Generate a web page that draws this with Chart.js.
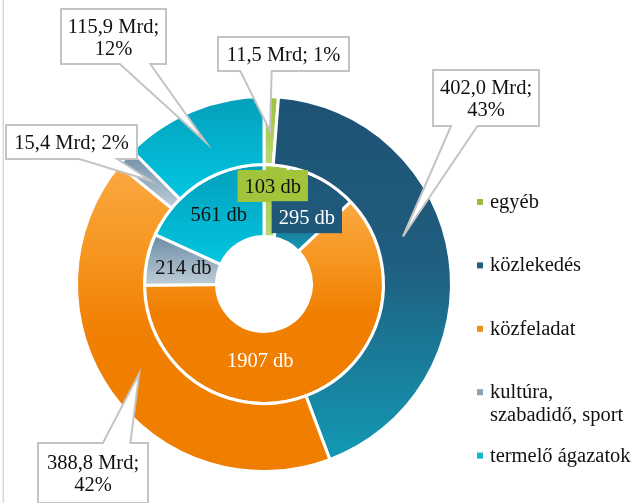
<!DOCTYPE html>
<html lang="hu">
<head>
<meta charset="utf-8">
<title>Beruházások ágazatonként</title>
<script src="https://cdn.jsdelivr.net/npm/chart.js@4.4.1/dist/chart.umd.min.js"></script>
<style>
  html, body { margin: 0; padding: 0; background: #fff; }
  #wrap { position: relative; width: 635px; height: 503px; }
</style>
</head>
<body>
<div id="wrap"><canvas id="chart" width="635" height="503"></canvas></div>
<script>
// ── DATA ─────────────────────────────────────
const categories = ['egyéb', 'közlekedés', 'közfeladat', 'kultúra, szabadidő, sport', 'termelő ágazatok'];
const amountMrd = [11.5, 402.0, 388.8, 15.4, 115.9];   // outer ring
const projectCount = [103, 295, 1907, 214, 561];        // inner ring

// ── STYLE ────────────────────────────────────
const FONT = "'Liberation Serif', 'Times New Roman', serif";
const FONT_SIZE = 20.5;
const TEXT = '#111111';
const legendColors = ['#9BBB3B', '#245E7E', '#F08C1E', '#8CA3B6', '#12B7D0'];
// vertical gradient per slice, top -> bottom of each arc
const gradStops = [
  [[0, '#9CC23A'], [1, '#BCD873']],
  [[0, '#1E5274'], [0.45, '#205D7E'], [1, '#129AB4']],
  [[0, '#FBA842'], [0.3, '#F6951F'], [0.55, '#F07F02'], [1, '#EF7D00']],
  [[0, '#6A8BA3'], [1, '#BFCED8']],
  [[0, '#049FBB'], [1, '#02C6E0']]
];

// inner ring label nudges (from arc centre) and boxes
const innerLabelStyle = [
  { dx: 0, dy: -15, color: TEXT, fill: '#A2C43A' },
  { dx: 2, dy: 6, color: '#FFFFFF', fill: '#1F5878' },
  { dx: -35, dy: -1, color: '#FFFFFF', fill: null },
  { dx: 1, dy: 1, color: TEXT, fill: null },
  { dx: 0, dy: 1, color: TEXT, fill: null }
];

// outer ring callouts: box relative to doughnut centre
const callouts = [
  { dx: -46, dy: -247, w: 131, h: 34, split: false, edge: 'bottom', base: [0.17, 0.41] },
  { dx: 169, dy: -214, w: 106, h: 56, split: true, edge: 'bottom', base: [0.17, 0.42], tip: [-13, -26] },
  { dx: -226, dy: 159, w: 110, h: 60, split: true, edge: 'top', base: [0.59, 0.84] },
  { dx: -258, dy: -159, w: 131, h: 34, split: false, edge: 'bottom', base: [0.56, 0.85] },
  { dx: -203, dy: -275, w: 105, h: 55, split: true, edge: 'bottom', base: [0.56, 0.85] }
];

function arcFill(ctx) {
  const chart = ctx.chart;
  const i = ctx.dataIndex;
  const stops = gradStops[i];
  const area = chart.chartArea;
  const ctrl = chart.getDatasetMeta(ctx.datasetIndex).controller;
  if (!area || !ctrl.outerRadius) return stops[0][1];
  const data = chart.data.datasets[ctx.datasetIndex].data;
  const total = data.reduce((a, b) => a + b, 0);
  let before = 0;
  for (let k = 0; k < i; k++) before += data[k];
  const a0 = before / total * 2 * Math.PI - Math.PI / 2;
  const a1 = (before + data[i]) / total * 2 * Math.PI - Math.PI / 2;
  const cy = (area.top + area.bottom) / 2;
  let y0 = Infinity, y1 = -Infinity;
  for (let s = 0; s <= 48; s++) {
    const a = a0 + (a1 - a0) * s / 48;
    for (const r of [ctrl.innerRadius, ctrl.outerRadius]) {
      const y = cy + r * Math.sin(a);
      y0 = Math.min(y0, y);
      y1 = Math.max(y1, y);
    }
  }
  const g = chart.ctx.createLinearGradient(0, y0, 0, y1);
  stops.forEach(([o, c]) => g.addColorStop(o, c));
  return g;
}

function wrapText(c, text, maxW) {
  const words = text.split(' ');
  const lines = [];
  let line = '';
  words.forEach(w => {
    const test = line ? line + ' ' + w : w;
    if (line && c.measureText(test).width > maxW) {
      lines.push(line);
      line = w;
    } else {
      line = test;
    }
  });
  lines.push(line);
  return lines;
}

const fmt = v => v.toFixed(1).replace('.', ',');

// ── LABELS, CALLOUTS, LEGEND ────────────────
const decorPlugin = {
  id: 'decor',
  beforeDraw(chart) {
    const c = chart.ctx;
    c.save();
    c.strokeStyle = '#D9D9D9';
    c.lineWidth = 1.5;
    c.beginPath();
    c.moveTo(3.25, 0);
    c.lineTo(3.25, chart.height);
    c.stroke();
    c.restore();
  },
  afterDatasetsDraw(chart) {
    const c = chart.ctx;
    const area = chart.chartArea;
    const cx = (area.left + area.right) / 2;
    const cy = (area.top + area.bottom) / 2;
    c.save();
    c.font = FONT_SIZE + 'px ' + FONT;
    c.textAlign = 'center';
    c.textBaseline = 'alphabetic';

    // inner ring: project counts
    chart.getDatasetMeta(1).data.forEach((arc, i) => {
      const p = arc.tooltipPosition();
      const st = innerLabelStyle[i];
      const x = p.x + st.dx, y = p.y + st.dy;
      const text = projectCount[i] + ' db';
      if (st.fill) {
        const w = c.measureText(text).width + 14;
        c.fillStyle = st.fill;
        c.fillRect(x - w / 2, y - 16, w, 32);
      }
      c.fillStyle = st.color;
      c.fillText(text, x, y + 6.5);
    });

    // outer ring: amount callouts
    const total = amountMrd.reduce((a, b) => a + b, 0);
    chart.getDatasetMeta(0).data.forEach((arc, i) => {
      const co = callouts[i];
      const p = arc.tooltipPosition();
      const tx = p.x + (co.tip ? co.tip[0] : 0);
      const ty = p.y + (co.tip ? co.tip[1] : 0);
      const x = cx + co.dx, y = cy + co.dy, w = co.w, h = co.h;
      const b1 = x + w * co.base[0], b2 = x + w * co.base[1];
      c.beginPath();
      if (co.edge === 'bottom') {
        c.moveTo(x, y);
        c.lineTo(x + w, y);
        c.lineTo(x + w, y + h);
        c.lineTo(b2, y + h);
        c.lineTo(tx, ty);
        c.lineTo(b1, y + h);
        c.lineTo(x, y + h);
      } else {
        c.moveTo(x, y);
        c.lineTo(b1, y);
        c.lineTo(tx, ty);
        c.lineTo(b2, y);
        c.lineTo(x + w, y);
        c.lineTo(x + w, y + h);
        c.lineTo(x, y + h);
      }
      c.closePath();
      c.fillStyle = '#FFFFFF';
      c.fill();
      c.lineWidth = 2;
      c.lineJoin = 'miter';
      c.strokeStyle = '#C4C4C4';
      c.stroke();

      const pct = Math.round(amountMrd[i] / total * 100) + '%';
      const head = fmt(amountMrd[i]) + ' Mrd;';
      const mx = x + w / 2, my = y + h / 2;
      c.fillStyle = TEXT;
      if (co.split) {
        c.fillText(head, mx, my - 4);
        c.fillText(pct, mx, my + 18);
      } else {
        c.fillText(head + ' ' + pct, mx, my + 6.5);
      }
    });
    c.restore();
  },
  afterDraw(chart) {
    const c = chart.ctx;
    const area = chart.chartArea;
    c.save();
    c.font = FONT_SIZE + 'px ' + FONT;
    c.textAlign = 'left';
    c.textBaseline = 'alphabetic';
    const mx = area.right + 24;
    const tx = mx + 13;
    categories.forEach((label, i) => {
      const base = 208 + i * 63.4;
      c.fillStyle = legendColors[i];
      c.fillRect(mx, base - 9, 6, 6);
      c.fillStyle = TEXT;
      wrapText(c, label, 150).forEach((ln, k) => c.fillText(ln, tx, base + k * 22.5));
    });
    c.restore();
  }
};

new Chart(document.getElementById('chart'), {
  type: 'doughnut',
  data: {
    labels: categories,
    datasets: [
      {
        label: 'Mrd Ft',
        data: amountMrd,
        backgroundColor: arcFill,
        borderColor: '#FFFFFF',
        borderWidth: 3,
        hoverBorderWidth: 3,
        hoverOffset: 0,
        weight: 68
      },
      {
        label: 'db',
        data: projectCount,
        backgroundColor: arcFill,
        borderColor: '#FFFFFF',
        borderWidth: 3,
        hoverBorderWidth: 3,
        hoverOffset: 0,
        weight: 72
      }
    ]
  },
  options: {
    responsive: false,
    animation: false,
    events: [],
    cutout: '25.3%',
    layout: { padding: { top: 95, bottom: 30, left: 75, right: 182 } },
    plugins: {
      legend: { display: false },
      tooltip: { enabled: false }
    }
  },
  plugins: [decorPlugin]
});
</script>
</body>
</html>
